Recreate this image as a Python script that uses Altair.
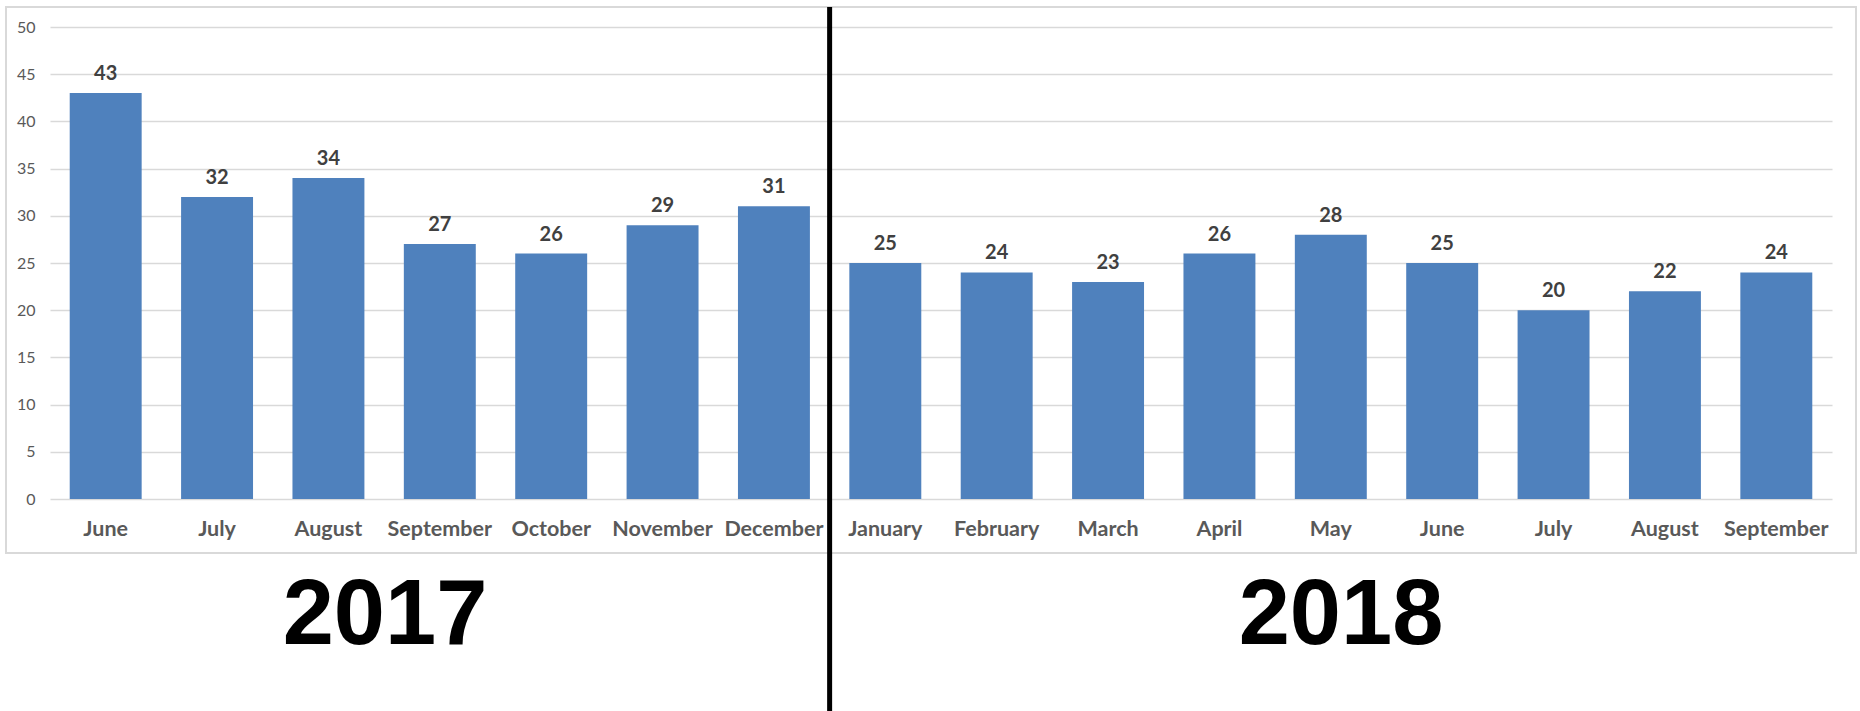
import altair as alt
import pandas as pd

years = ["2017"] * 7 + ["2018"] * 9
months = ["June", "July", "August", "September", "October", "November", "December",
          "January", "February", "March", "April", "May", "June", "July", "August", "September"]
values = [43, 32, 34, 27, 26, 29, 31, 25, 24, 23, 26, 28, 25, 20, 22, 24]
y_ticks = [0, 5, 10, 15, 20, 25, 30, 35, 40, 45, 50]
year_labels = ["2017", "2018"]

df = pd.DataFrame({"year": years, "month": months, "value": values})
df["key"] = df["year"] + " " + df["month"]
order = list(df["key"])

W, H = 1782, 472
FONT = "Lato"
PI = 0.354
STEP = W / len(order)

x = alt.X("key:N", sort=order, title=None,
          scale=alt.Scale(paddingInner=PI, paddingOuter=PI / 2),
          axis=alt.Axis(labelExpr="slice(datum.label, 5)", labelAngle=0, ticks=False,
                        domain=False, labelFont=FONT, labelFontSize=21.5,
                        labelFontWeight="bold", labelColor="#595959", labelPadding=19))
y = alt.Y("value:Q", title=None,
          scale=alt.Scale(domain=[0, 50], nice=False),
          axis=alt.Axis(values=y_ticks, ticks=False, domain=False, gridColor="#d9d9d9",
                        gridWidth=1.5, labelFont=FONT, labelFontSize=16,
                        labelColor="#595959", labelPadding=15))

base = alt.Chart(df)

frame = alt.Chart(pd.DataFrame({"a": [0]})).mark_rect(
    fill=None, stroke="#d9d9d9", strokeWidth=2
).encode(x=alt.value(-44), x2=alt.value(1806), y=alt.value(-20), y2=alt.value(526))

bars = base.mark_bar(color="#4f81bd").encode(x=x, y=y)

labels = base.mark_text(baseline="bottom", dy=-9, font=FONT, fontSize=20,
                        fontWeight="bold", color="#404040").encode(
    x=alt.X("key:N", sort=order), y="value:Q", text="value:Q")

divider = alt.Chart(df[df["key"] == "2018 January"]).mark_rule(
    color="black", strokeWidth=5, xOffset=-PI * STEP / 2
).encode(x=alt.X("key:N", sort=order, bandPosition=0),
         y=alt.value(-20), y2=alt.value(684))

YFONT = "Liberation Sans, Arial, sans-serif"
yr17 = alt.Chart(pd.DataFrame({"t": [year_labels[0]]})).mark_text(
    font=YFONT, fontSize=92, fontWeight="bold", color="black",
    baseline="middle", align="center"
).encode(text="t:N", x=alt.value(335), y=alt.value(589))

yr18 = alt.Chart(pd.DataFrame({"t": [year_labels[1]]})).mark_text(
    font=YFONT, fontSize=92, fontWeight="bold", color="black",
    baseline="middle", align="center"
).encode(text="t:N", x=alt.value(1291), y=alt.value(589))

chart = alt.layer(frame, bars, labels, divider, yr17, yr18).properties(
    width=W, height=H,
    autosize=alt.AutoSizeParams(type="none"),
    padding={"left": 50, "top": 27, "right": 28, "bottom": 212},
    background="white",
).configure_view(stroke=None)

chart.save("out.html", embed_options={"renderer": "svg", "actions": False})
